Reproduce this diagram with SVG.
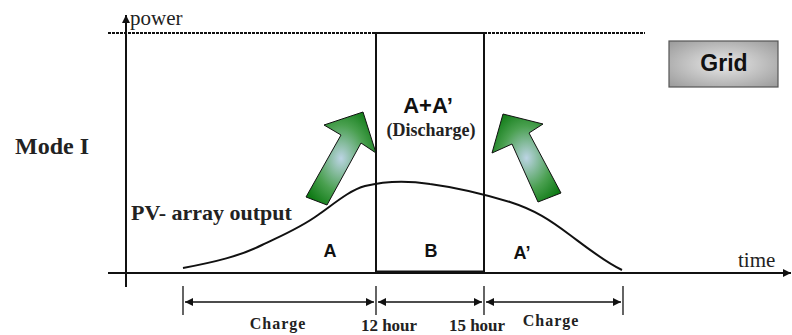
<svg xmlns="http://www.w3.org/2000/svg" width="792" height="335" viewBox="0 0 792 335">
<style>
.serif{font-family:"Liberation Serif","Times New Roman",serif;font-weight:bold;fill:#222}
.plain{font-family:"Liberation Serif","Times New Roman",serif;fill:#222}
.sans{font-family:"Liberation Sans",Arial,sans-serif;font-weight:bold;fill:#111}
.ln{stroke:#111;fill:none}
.arr{stroke:#111;stroke-width:1.3}
</style>
<defs>
<marker id="ah" viewBox="0 0 10 10" refX="10" refY="5" markerWidth="12" markerHeight="8" markerUnits="userSpaceOnUse" orient="auto-start-reverse">
<path d="M0,0 L10,5 L0,10 z" fill="#111"/>
</marker>
<marker id="ax" viewBox="0 0 10 10" refX="10" refY="5" markerWidth="9" markerHeight="8" markerUnits="userSpaceOnUse" orient="auto">
<path d="M0,0 L10,5 L0,10 z" fill="#111"/>
</marker>
<radialGradient id="gg" cx="50%" cy="50%" r="60%">
<stop offset="0" stop-color="#bcd4e4"/>
<stop offset="0.6" stop-color="#4aa050"/>
<stop offset="1" stop-color="#0e7a14"/>
</radialGradient>
<radialGradient id="gb" cx="50%" cy="50%" r="70%">
<stop offset="0" stop-color="#e8e8e8"/>
<stop offset="1" stop-color="#9a9a9a"/>
</radialGradient>
</defs>
<rect width="792" height="335" fill="#fff"/>
<g id="axes">
<line class="ln" x1="126" y1="287" x2="126" y2="15" stroke-width="2" marker-end="url(#ax)"/>
<line class="ln" x1="108" y1="273" x2="791" y2="273" stroke-width="2" marker-end="url(#ax)"/>
<line class="ln" x1="108" y1="33" x2="376" y2="33" stroke-width="2" stroke-dasharray="3,1"/>
<line class="ln" x1="484" y1="33" x2="645" y2="33" stroke-width="2" stroke-dasharray="3,1"/>
<text class="plain" x="130" y="25" font-size="21">power</text>
<text class="plain" x="738" y="267" font-size="21">time</text>
</g>
<g id="mode">
<text class="serif" x="15" y="154" font-size="24">Mode I</text>
</g>
<g id="discharge-box">
<rect x="376" y="33" width="108" height="240" fill="none" stroke="#111" stroke-width="2"/>
<line class="ln" x1="376" y1="272" x2="484" y2="272" stroke-width="3"/>
<text class="sans" x="428" y="113" font-size="22" text-anchor="middle">A+A’</text>
<text class="serif" x="431" y="136" font-size="18" text-anchor="middle">(Discharge)</text>
</g>
<g id="grid">
<rect x="669" y="41" width="109" height="46" fill="url(#gb)" stroke="#555" stroke-width="1.2"/>
<text class="sans" x="724" y="71" font-size="23" text-anchor="middle">Grid</text>
</g>
<g id="pv-curve">
<path class="ln" stroke-width="2" d="M183,268 C215,262 240,256 262,245 C285,234 300,228 318,215 C335,203 350,190 365,186 C385,181 405,180 430,184 C460,188 480,193 510,202 C535,210 550,220 570,235 C590,250 605,262 622,270"/>
<text class="serif" x="131" y="220" font-size="22">PV- array output</text>
<text class="sans" x="330" y="257" font-size="18" text-anchor="middle">A</text>
<text class="sans" x="431" y="257" font-size="18" text-anchor="middle">B</text>
<text class="sans" x="522" y="259" font-size="18" text-anchor="middle">A’</text>
</g>
<g id="arrow-left">
<path d="M363,112 L324,125 L341,135 L306,197 L327,205 L361,143 L376,153 Z" fill="url(#gg)" stroke="#111" stroke-width="1"/>
</g>
<g id="arrow-right">
<path d="M503,114 L492,153 L512,144 L538,202 L561,193 L529,133 L543,124 Z" fill="url(#gg)" stroke="#111" stroke-width="1"/>
</g>
<g id="connectors">
<line class="arr" x1="183" y1="286" x2="183" y2="315"/>
<line class="arr" x1="376" y1="286" x2="376" y2="315"/>
<line class="arr" x1="484" y1="286" x2="484" y2="315"/>
<line class="arr" x1="623" y1="286" x2="623" y2="315"/>
<line class="arr" x1="185" y1="302" x2="374" y2="302" marker-start="url(#ah)" marker-end="url(#ah)"/>
<line class="arr" x1="378" y1="302" x2="482" y2="302" marker-start="url(#ah)" marker-end="url(#ah)"/>
<line class="arr" x1="486" y1="302" x2="621" y2="302" marker-start="url(#ah)" marker-end="url(#ah)"/>
</g>
<g id="dim-labels">
<text class="serif" x="278" y="329" font-size="16" letter-spacing="1" text-anchor="middle">Charge</text>
<text class="serif" x="389" y="331" font-size="17" text-anchor="middle">12 hour</text>
<text class="serif" x="477" y="331" font-size="17" text-anchor="middle">15 hour</text>
<text class="serif" x="551" y="326" font-size="16" letter-spacing="1" text-anchor="middle">Charge</text>
</g>
</svg>
